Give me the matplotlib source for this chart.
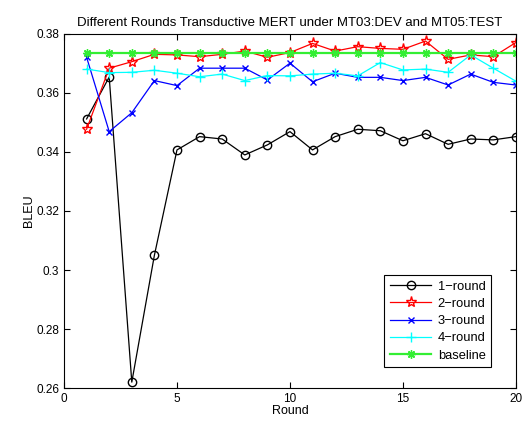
import numpy as np
import matplotlib
matplotlib.use("Agg")
import matplotlib.pyplot as plt

plt.rcParams["font.family"] = ["Liberation Sans", "DejaVu Sans"]

rounds = np.arange(1, 21)
round1 = [0.3512, 0.3654, 0.2620, 0.3050, 0.3407, 0.3452, 0.3444, 0.3390, 0.3424, 0.3469,
          0.3407, 0.3452, 0.3477, 0.3472, 0.3438, 0.3462, 0.3426, 0.3444, 0.3441, 0.3452]
round2 = [0.3477, 0.3684, 0.3706, 0.3731, 0.3729, 0.3723, 0.3731, 0.3742, 0.3721, 0.3737,
          0.3768, 0.3742, 0.3757, 0.3751, 0.3748, 0.3776, 0.3714, 0.3729, 0.3723, 0.3771]
round3 = [0.3721, 0.3469, 0.3533, 0.3642, 0.3625, 0.3684, 0.3684, 0.3684, 0.3644, 0.3701,
          0.3638, 0.3667, 0.3653, 0.3653, 0.3642, 0.3653, 0.3627, 0.3664, 0.3636, 0.3627]
round4 = [0.3681, 0.3669, 0.3670, 0.3677, 0.3667, 0.3655, 0.3664, 0.3642, 0.3659, 0.3658,
          0.3664, 0.3667, 0.3658, 0.3703, 0.3678, 0.3681, 0.3670, 0.3729, 0.3684, 0.3640]
baseline = [0.3736] * 20

fig = plt.figure(figsize=(5.23, 4.23), dpi=100)
ax = fig.add_axes([0.1224, 0.0827, 0.864, 0.837])

ax.plot(rounds, round1, "-o", color="k", mfc="none", ms=6, lw=0.9, label="1\u2212round")
ax.plot(rounds, round2, "-*", color="r", mfc="none", ms=8, lw=0.9, label="2\u2212round")
ax.plot(rounds, round3, "-x", color="b", ms=5, lw=0.9, label="3\u2212round")
ax.plot(rounds, round4, "-+", color="cyan", ms=7, lw=0.9, label="4\u2212round")
ax.plot(rounds, baseline, "-", marker=(8, 2, 0), color="#33ee33", ms=6, mew=1.0,
        lw=1.6, label="baseline")

ax.set_xlim(0, 20)
ax.set_ylim(0.26, 0.38)
ax.set_xticks([0, 5, 10, 15, 20])
yt = [0.26, 0.28, 0.30, 0.32, 0.34, 0.36, 0.38]
ax.set_yticks(yt)
ax.set_yticklabels([f"{v:g}" for v in yt])
ax.tick_params(direction="in", top=True, right=True, labelsize=8.5, length=4)

ax.set_xlabel("Round", fontsize=9, labelpad=0)
ax.set_ylabel("BLEU", fontsize=9, labelpad=1)
ax.set_title("Different Rounds Transductive MERT under MT03:DEV and MT05:TEST",
             fontsize=9.5, pad=6)

leg = ax.legend(loc="lower right", bbox_to_anchor=(0.96, 0.04), fontsize=9.3,
                fancybox=False, edgecolor="k", framealpha=1, borderpad=0.45,
                labelspacing=0.4, handlelength=3.2, handletextpad=0.5)
leg.get_frame().set_linewidth(0.8)

plt.savefig("out.png", dpi=100)
